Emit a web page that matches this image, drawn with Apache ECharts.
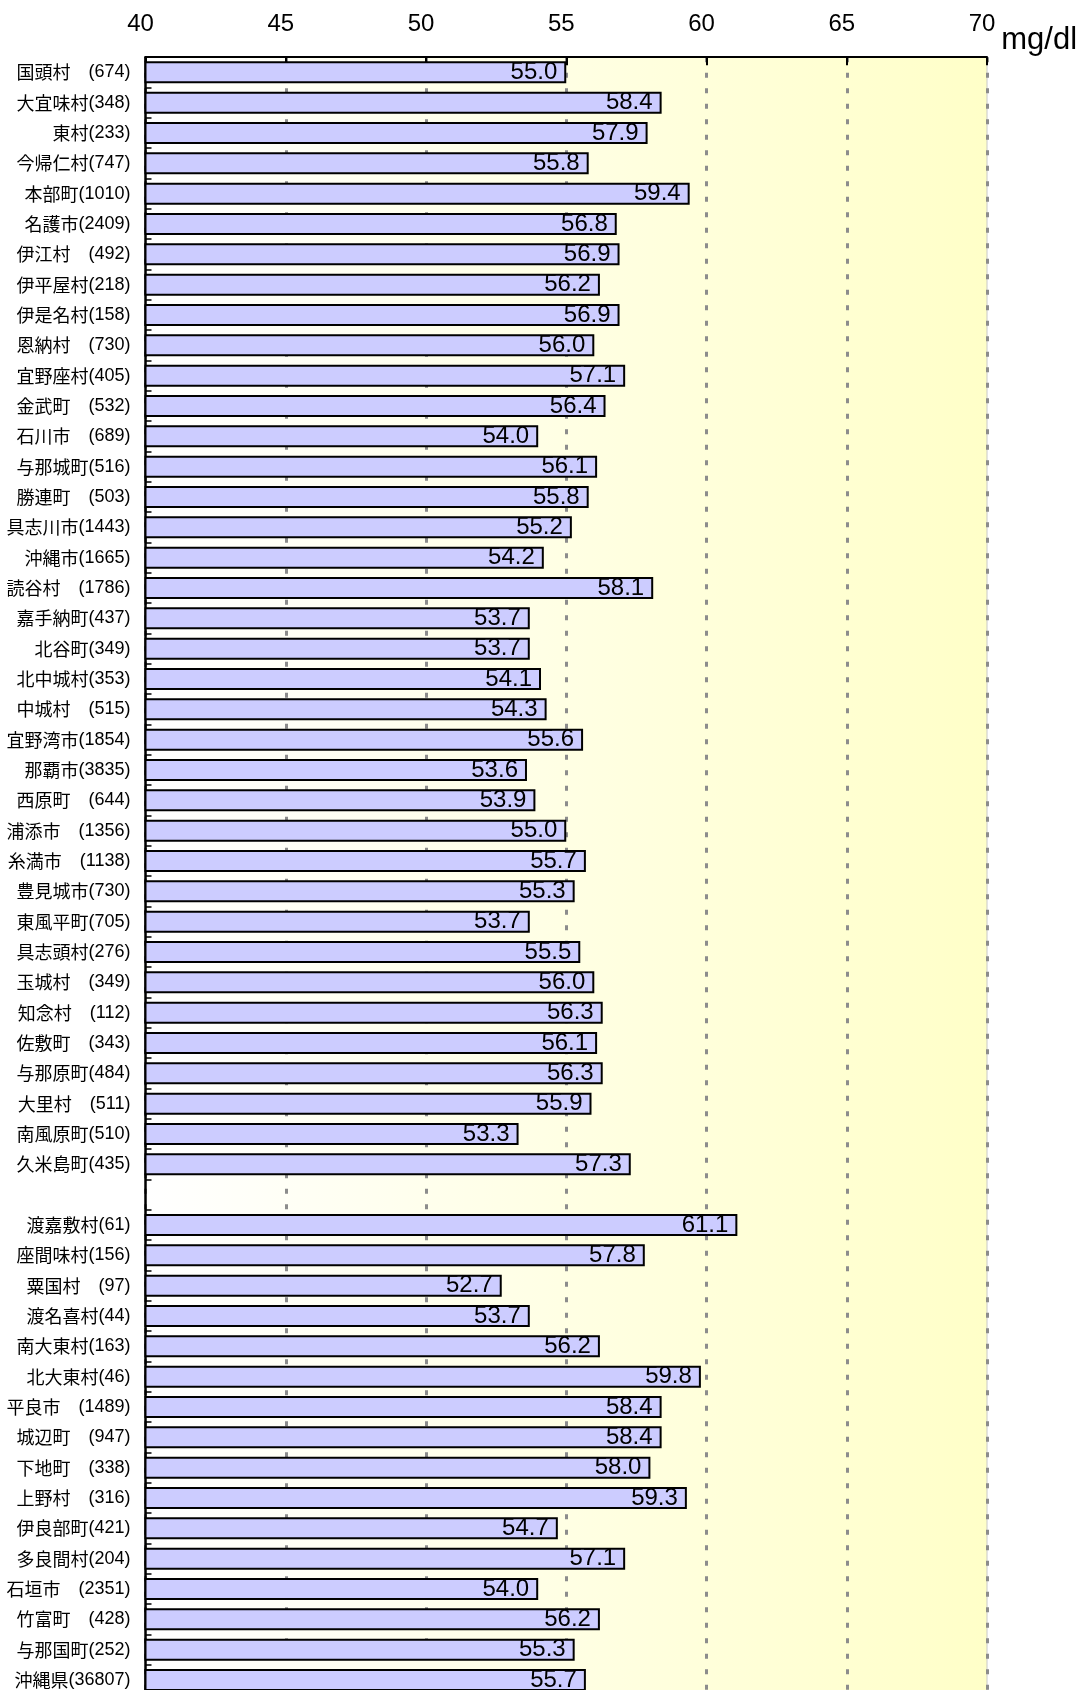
<!DOCTYPE html>
<html>
<head>
<meta charset="utf-8">
<script src="https://cdn.jsdelivr.net/npm/echarts@6/dist/echarts.min.js"></script>
<style>
html, body { margin: 0; padding: 0; background: #fff; }
#main { width: 1079px; height: 1690px; }
</style>
</head>
<body>
<div id="main"></div>
<script>
// 市町村名（全角スペースは元の表のまま）
var places = ['国頭村　', '大宜味村', '東村', '今帰仁村', '本部町', '名護市', '伊江村　', '伊平屋村', '伊是名村',
    '恩納村　', '宜野座村', '金武町　', '石川市　', '与那城町', '勝連町　', '具志川市', '沖縄市', '読谷村　',
    '嘉手納町', '北谷町', '北中城村', '中城村　', '宜野湾市', '那覇市', '西原町　', '浦添市　', '糸満市　',
    '豊見城市', '東風平町', '具志頭村', '玉城村　', '知念村　', '佐敷町　', '与那原町', '大里村　', '南風原町',
    '久米島町', '', '渡嘉敷村', '座間味村', '粟国村　', '渡名喜村', '南大東村', '北大東村', '平良市　',
    '城辺町　', '下地町　', '上野村　', '伊良部町', '多良間村', '石垣市　', '竹富町　', '与那国町', '沖縄県'];
// 受診者数
var counts = ['674', '348', '233', '747', '1010', '2409', '492', '218', '158',
    '730', '405', '532', '689', '516', '503', '1443', '1665', '1786',
    '437', '349', '353', '515', '1854', '3835', '644', '1356', '1138',
    '730', '705', '276', '349', '112', '343', '484', '511', '510',
    '435', '', '61', '156', '97', '44', '163', '46', '1489',
    '947', '338', '316', '421', '204', '2351', '428', '252', '36807'];
// 平均値 mg/dl
var values = [55.0, 58.4, 57.9, 55.8, 59.4, 56.8, 56.9, 56.2, 56.9,
    56.0, 57.1, 56.4, 54.0, 56.1, 55.8, 55.2, 54.2, 58.1,
    53.7, 53.7, 54.1, 54.3, 55.6, 53.6, 53.9, 55.0, 55.7,
    55.3, 53.7, 55.5, 56.0, 56.3, 56.1, 56.3, 55.9, 53.3,
    57.3, null, 61.1, 57.8, 52.7, 53.7, 56.2, 59.8, 58.4,
    58.4, 58.0, 59.3, 54.7, 57.1, 54.0, 56.2, 55.3, 55.7];
var ticks = [40, 45, 50, 55, 60, 65, 70];

var cats = places.map(function (p, i) {
    return counts[i] === '' ? '' : p + '(' + counts[i] + ')';
});

var dom = document.getElementById('main');
var myChart = echarts.init(dom);
var option = {
    animation: false,
    grid: {
        left: 145.5,
        right: 92,
        top: 57.2,
        height: 1638,
        outerBoundsMode: 'none',
        show: true,
        borderColor: '#c8c8c8',
        borderWidth: 1,
        backgroundColor: new echarts.graphic.LinearGradient(0, 0, 1, 0, [
            {offset: 0, color: '#ffffff'},
            {offset: 1, color: '#ffffc8'}
        ])
    },
    xAxis: {
        type: 'value',
        position: 'top',
        min: ticks[0],
        max: ticks[ticks.length - 1],
        interval: 5,
        name: 'mg/dl',
        nameLocation: 'end',
        nameGap: 0,
        nameTextStyle: {
            fontFamily: 'Liberation Sans',
            fontSize: 31,
            color: '#000',
            verticalAlign: 'bottom',
            padding: [0, 0, 1, 0]
        },
        axisLine: {show: true, lineStyle: {color: '#000', width: 2}},
        axisTick: {show: true, inside: true, length: 8, lineStyle: {color: '#000', width: 2}},
        axisLabel: {
            margin: 21,
            fontFamily: 'Liberation Sans',
            fontSize: 24,
            color: '#000',
            padding: [0, 10, 0, 0]
        },
        splitLine: {
            show: true,
            lineStyle: {color: '#8c8c8c', width: 3, type: [5, 10.5]}
        }
    },
    yAxis: {
        type: 'category',
        data: cats,
        inverse: true,
        axisLine: {show: true, lineStyle: {color: '#000', width: 2.5}},
        axisTick: {show: true, inside: true, length: 6, lineStyle: {color: '#000', width: 1.5}},
        axisLabel: {
            interval: 0,
            margin: 15,
            formatter: function (v) {
                if (!v) return '';
                var k = v.indexOf('(');
                return '{n|' + v.slice(0, k) + '}{c|' + v.slice(k) + '}';
            },
            rich: {
                n: {fontFamily: 'Noto Sans CJK JP', fontSize: 18, color: '#000'},
                c: {fontFamily: 'Liberation Sans', fontSize: 18, color: '#000'}
            }
        },
        splitLine: {show: false}
    },
    series: [{
        type: 'bar',
        data: values,
        barWidth: 22,
        itemStyle: {color: '#ccccff', borderColor: '#000', borderWidth: 2},
        label: {
            show: true,
            position: 'insideRight',
            distance: 9,
            fontFamily: 'Liberation Sans',
            fontSize: 24,
            color: '#000',
            formatter: function (p) {
                return p.value == null ? '' : p.value.toFixed(1);
            }
        }
    }]
};
myChart.setOption(option);
</script>
</body>
</html>
